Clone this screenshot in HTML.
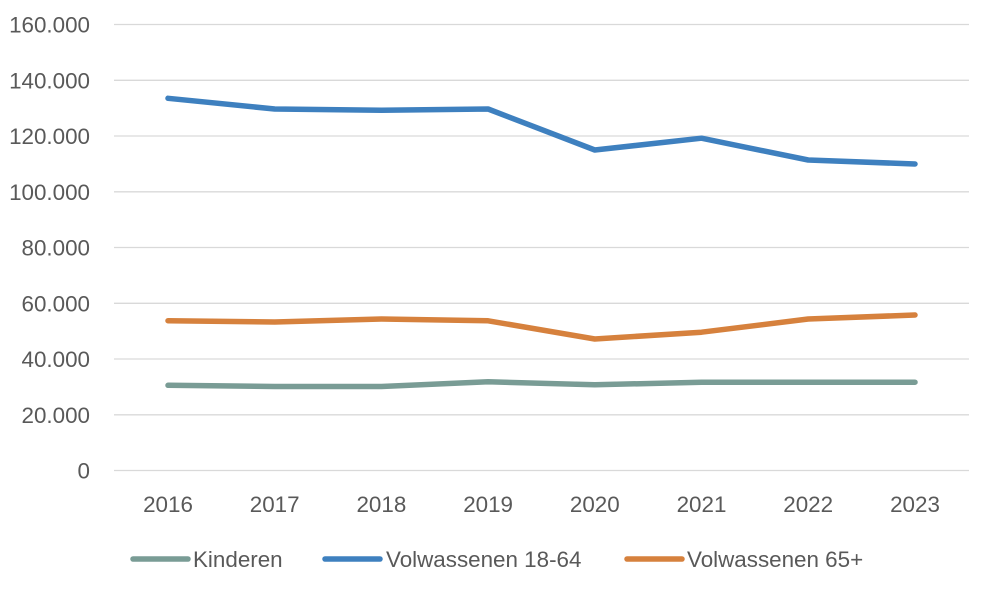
<!DOCTYPE html>
<html>
<head>
<meta charset="utf-8">
<style>
  html, body { margin: 0; padding: 0; background: #ffffff; }
  body { width: 984px; height: 592px; overflow: hidden; }
  svg { display: block; }
  text { font-family: "Liberation Sans", Arial, sans-serif; fill: #595959; font-size: 22.4px; }
</style>
</head>
<body>
<svg width="984" height="592" viewBox="0 0 984 592" xmlns="http://www.w3.org/2000/svg">
  <rect x="0" y="0" width="984" height="592" fill="#ffffff"/>
  <!-- gridlines -->
  <g stroke="#D9D9D9" stroke-width="1.3">
    <line x1="114" y1="24.5" x2="969" y2="24.5"/>
    <line x1="114" y1="80.3" x2="969" y2="80.3"/>
    <line x1="114" y1="136" x2="969" y2="136"/>
    <line x1="114" y1="191.8" x2="969" y2="191.8"/>
    <line x1="114" y1="247.5" x2="969" y2="247.5"/>
    <line x1="114" y1="303.3" x2="969" y2="303.3"/>
    <line x1="114" y1="359" x2="969" y2="359"/>
    <line x1="114" y1="414.8" x2="969" y2="414.8"/>
    <line x1="114" y1="470.5" x2="969" y2="470.5"/>
  </g>
  <!-- y labels -->
  <g text-anchor="end">
    <text x="90" y="32.5">160.000</text>
    <text x="90" y="88.3">140.000</text>
    <text x="90" y="144">120.000</text>
    <text x="90" y="199.8">100.000</text>
    <text x="90" y="255.5">80.000</text>
    <text x="90" y="311.3">60.000</text>
    <text x="90" y="367">40.000</text>
    <text x="90" y="422.8">20.000</text>
    <text x="90" y="478.5">0</text>
  </g>
  <!-- x labels -->
  <g text-anchor="middle">
    <text x="168" y="512">2016</text>
    <text x="274.7" y="512">2017</text>
    <text x="381.4" y="512">2018</text>
    <text x="488.1" y="512">2019</text>
    <text x="594.8" y="512">2020</text>
    <text x="701.5" y="512">2021</text>
    <text x="808.2" y="512">2022</text>
    <text x="915" y="512">2023</text>
  </g>
  <!-- series -->
  <g fill="none" stroke-width="5.5" stroke-linecap="round" stroke-linejoin="round">
    <polyline stroke="#799C95" points="168,385.3 274.7,386.5 381.4,386.5 488.1,381.8 594.8,384.8 701.5,382.2 808.2,382.2 915,382.2"/>
    <polyline stroke="#3E80BF" points="168,98.3 274.7,109 381.4,110.2 488.1,109 594.8,150 701.5,138.2 808.2,160 915,164"/>
    <polyline stroke="#D6813D" points="168,320.7 274.7,322 381.4,319 488.1,320.8 594.8,339 701.5,332.2 808.2,319 915,315"/>
  </g>
  <!-- legend -->
  <g stroke-width="5.5" stroke-linecap="round">
    <line x1="133" y1="559" x2="188" y2="559" stroke="#799C95"/>
    <line x1="325" y1="559" x2="380" y2="559" stroke="#3E80BF"/>
    <line x1="627" y1="559" x2="682" y2="559" stroke="#D6813D"/>
  </g>
  <text x="193" y="567">Kinderen</text>
  <text x="386" y="567">Volwassenen 18-64</text>
  <text x="687" y="567">Volwassenen 65+</text>
</svg>
</body>
</html>
